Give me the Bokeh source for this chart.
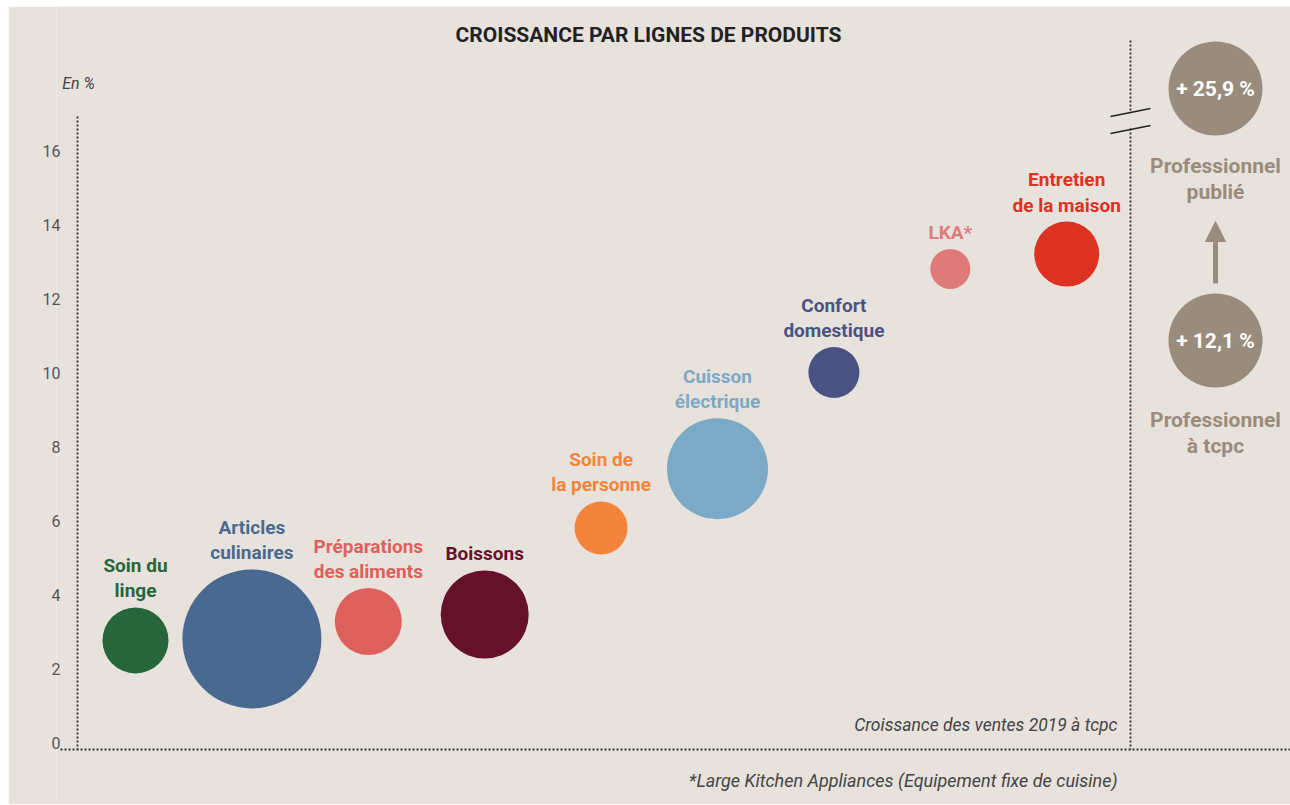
from bokeh.plotting import figure
from bokeh.models import ColumnDataSource, Range1d, Arrow, NormalHead, FixedTicker
from bokeh.core.properties import value
from bokeh.embed import file_html
from bokeh.resources import INLINE

# ---- data ----
categories = ["Soin du\nlinge", "Articles\nculinaires", "Préparations\ndes aliments", "Boissons",
              "Soin de\nla personne", "Cuisson\nélectrique", "Confort\ndomestique", "LKA*",
              "Entretien\nde la maison"]
growth = [2.76, 2.8, 3.27, 3.46, 5.8, 7.4, 10.0, 12.8, 13.2]
weight = [66, 139, 67, 88, 53, 101, 51, 40, 65]   # relative bubble size (diameter)
colors = ["#27663a", "#4a6990", "#de605d", "#66112c", "#f4843c", "#7ca9c5", "#4a5283", "#df7a7a", "#dd3121"]
y_ticks = [0, 2, 4, 6, 8, 10, 12, 14, 16]
pro_values = ["+ 25,9 %", "+ 12,1 %"]
pro_labels = ["Professionnel\npublié", "Professionnel\nà tcpc"]

BG = "#e7e2dc"
PRO = "#9a8c7c"
FONT = "Roboto"

OX, OY = 8, 6
W, H = 1282, 798
LEFT = 48

# page-pixel -> data helpers
def px(x):
    return (x - 18.6) / 116.4

def py(y):
    return (742 - y) / 37.0

p = figure(width=W, height=H, output_backend="svg", toolbar_location=None,
           x_range=Range1d(px(OX + LEFT), px(OX + W)), y_range=Range1d(py(OY + H), py(OY)),
           x_axis_location=None, background_fill_color=BG, border_fill_color=BG,
           min_border_left=LEFT, min_border_right=0, min_border_top=0, min_border_bottom=0)
p.margin = (OY, 0, 0, OX)
p.outline_line_color = None
p.xgrid.visible = False
p.ygrid.visible = False

ax = p.yaxis[0]
ax.ticker = FixedTicker(ticks=y_ticks)
ax.axis_line_color = None
ax.major_tick_line_color = None
ax.minor_tick_line_color = None
ax.major_label_standoff = -(66 - OX - LEFT)
ax.major_label_text_font = FONT
ax.major_label_text_font_size = "16px"
ax.major_label_text_color = "#555555"
ax.major_label_text_font_style = "normal"

# dotted frame lines
DOT = dict(line_color="#333333", line_width=1.8, line_dash="2 2")
p.segment(x0=[px(77)], y0=[py(116)], x1=[px(77)], y1=[py(749)], **DOT)
p.segment(x0=[px(60)], y0=[py(749)], x1=[px(1290)], y1=[py(749)], **DOT)
p.segment(x0=[px(1130)], y0=[py(40)], x1=[px(1130)], y1=[py(110)], **DOT)
p.segment(x0=[px(1130)], y0=[py(128)], x1=[px(1130)], y1=[py(749)], **DOT)
# axis break marks
p.segment(x0=[px(1110), px(1110)], y0=[py(116), py(133)], x1=[px(1150), px(1150)], y1=[py(108), py(125)],
          line_color="#222222", line_width=1.3)

# bubbles
xs = list(range(1, len(categories) + 1))
src = ColumnDataSource(dict(
    x=xs, y=growth, size=weight, color=colors, label=categories,
    off=[-(w / 2 + 5) for w in weight],
))
p.scatter("x", "y", size="size", fill_color="color", line_color=None, source=src)
p.text("x", "y", text="label", y_offset="off", text_color="color", source=src,
       text_font=value(FONT), text_font_style="bold", text_font_size="19px",
       text_align="center", text_baseline="bottom", text_line_height=1.1)

# right panel: professional
pro_y = [py(88), py(340)]
pro_x = [px(1215)] * 2
p.scatter(pro_x, pro_y, size=94, fill_color=PRO, line_color=None)
p.text(pro_x, pro_y, text=pro_values, text_color="white", text_font=value(FONT),
       text_font_style="bold", text_font_size="21px", text_align="center", text_baseline="middle")
p.text(pro_x, [py(153), py(407)], text=pro_labels, text_color=PRO, text_font=value(FONT),
       text_font_style="bold", text_font_size="21px", text_align="center", text_baseline="top",
       text_line_height=1.1)
p.add_layout(Arrow(x_start=px(1215), y_start=py(283), x_end=px(1215), y_end=py(221),
                   line_color=PRO, line_width=5,
                   end=NormalHead(size=20, fill_color=PRO, line_color=PRO)))

# texts
p.text([px(648)], [py(34)], text=["CROISSANCE PAR LIGNES DE PRODUITS"], text_color="#222222",
       text_font=value(FONT), text_font_style="bold", text_font_size="21px",
       text_align="center", text_baseline="middle")
p.text([px(78)], [py(83)], text=["En %"], text_color="#444444", text_font=value(FONT),
       text_font_style="italic", text_font_size="16px", text_align="center", text_baseline="middle")
p.text([px(1117)], [py(724)], text=["Croissance des ventes 2019 à tcpc"], text_color="#444444",
       text_font=value(FONT), text_font_style="italic", text_font_size="17.5px",
       text_align="right", text_baseline="middle")
p.text([px(1117)], [py(780)], text=["*Large Kitchen Appliances (Equipement fixe de cuisine)"],
       text_color="#444444", text_font=value(FONT), text_font_style="italic", text_font_size="18px",
       text_align="right", text_baseline="middle")

open("out.html", "w").write(file_html(p, INLINE))
